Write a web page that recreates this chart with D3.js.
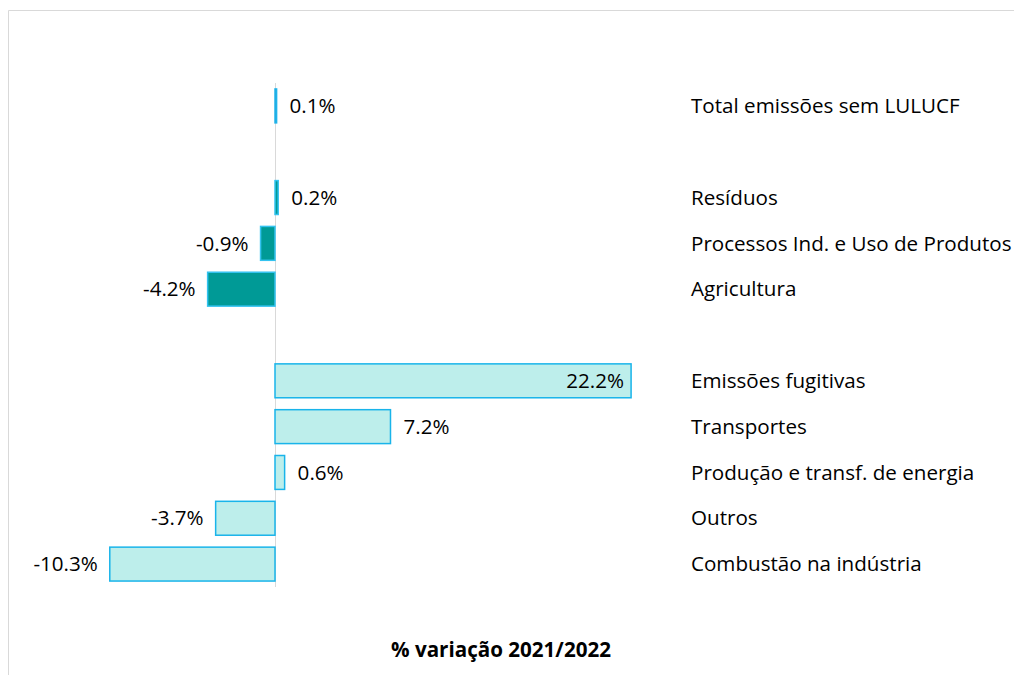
<!DOCTYPE html>
<html>
<head>
<meta charset="utf-8">
<script src="https://cdn.jsdelivr.net/npm/d3@7"></script>
<style>
  html, body { margin: 0; padding: 0; background: #fff; }
  svg { display: block; font-family: "Open Sans", "Noto Sans", sans-serif; }
</style>
</head>
<body>
<svg id="chart"></svg>
<script>
// % variação 2021/2022 por sector

const categories = [
  'Total emissões sem LULUCF', null,
  'Resíduos', 'Processos Ind. e Uso de Produtos', 'Agricultura', null,
  'Emissões fugitivas', 'Transportes', 'Produção e transf. de energia', 'Outros', 'Combustão na indústria'
];
const values = [0.1, null, 0.2, -0.9, -4.2, null, 22.2, 7.2, 0.6, -3.7, -10.3];
const groups = ['total', null, 'other', 'other', 'other', null, 'energy', 'energy', 'energy', 'energy', 'energy'];
const xDomain = [-17.1, 44.3];
const axisTitle = '% variação 2021/2022';

const width = 1014;
const height = 675;
const fontSize = '20.6px';

const fills = { total: '#2e97cf', other: '#009a96', energy: '#bdeeeb' };
const strokes = { total: '#1fb4ea', other: '#33c3f0', energy: '#19b4ea' };

const data = categories.map((c, i) => ({ i, name: c, value: values[i], group: groups[i] }));

const svg = d3.select('#chart')
  .attr('width', width)
  .attr('height', height);

// chart area border
svg.append('path')
  .attr('d', `M8.5,${height} V10.5 H${width}`)
  .style('fill', 'none')
  .style('stroke', '#d9d9d9')
  .style('stroke-width', 1);

// zero sits at x=275, ~16 px per percentage point
const xScale = d3.scaleLinear()
  .domain(xDomain)
  .range([275 + xDomain[0] * 16.04, 275 + xDomain[1] * 16.04]);

const yScale = d3.scaleBand()
  .domain(data.map(d => d.i))
  .range([83, 587])
  .paddingInner(0.26)
  .paddingOuter(0.13);

// zero line
svg.append('line')
  .attr('x1', xScale(0) + 0.5)
  .attr('x2', xScale(0) + 0.5)
  .attr('y1', 83)
  .attr('y2', 587)
  .style('stroke', '#d9d9d9')
  .style('stroke-width', 1);

const rows = data.filter(d => d.name !== null);

svg.selectAll('.bar')
  .data(rows)
  .enter()
  .append('rect')
  .attr('class', 'bar')
  .attr('x', d => Math.min(xScale(0), xScale(d.value)))
  .attr('y', d => yScale(d.i))
  .attr('width', d => Math.max(1, Math.abs(xScale(d.value) - xScale(0))))
  .attr('height', yScale.bandwidth())
  .style('fill', d => fills[d.group])
  .style('stroke', d => strokes[d.group])
  .style('stroke-width', 1.5);

// value labels
const fmt = v => v.toFixed(1) + '%';
svg.selectAll('.val')
  .data(rows)
  .enter()
  .append('text')
  .attr('class', 'val')
  .attr('x', d => {
    if (d.value > 20) return xScale(d.value) - 7;
    return d.value >= 0 ? xScale(d.value) + 13 : xScale(d.value) - 12;
  })
  .attr('y', d => yScale(d.i) + yScale.bandwidth() / 2)
  .attr('dy', '0.35em')
  .attr('text-anchor', d => (d.value >= 0 && d.value <= 20) ? 'start' : 'end')
  .style('font-size', fontSize)
  .style('fill', '#000')
  .text(d => fmt(d.value));

// category labels
svg.selectAll('.cat')
  .data(rows)
  .enter()
  .append('text')
  .attr('class', 'cat')
  .attr('x', 691)
  .attr('y', d => yScale(d.i) + yScale.bandwidth() / 2)
  .attr('dy', '0.35em')
  .style('font-size', fontSize)
  .style('fill', '#000')
  .text(d => d.name);

// axis title
svg.append('text')
  .attr('x', 501)
  .attr('y', 650)
  .attr('dy', '0.35em')
  .attr('text-anchor', 'middle')
  .style('font-size', fontSize)
  .style('font-weight', 'bold')
  .style('fill', '#000')
  .text(axisTitle);
</script>
</body>
</html>
